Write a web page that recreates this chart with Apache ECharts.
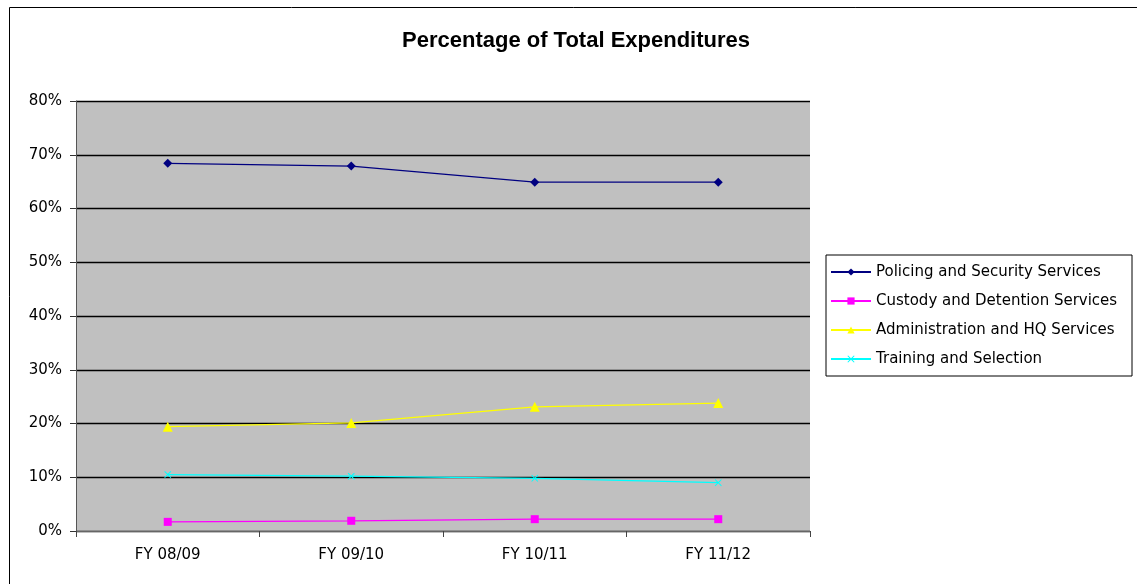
<!DOCTYPE html>
<html><head><meta charset="utf-8">
<script src="https://cdn.jsdelivr.net/npm/echarts@6/dist/echarts.min.js"></script>
<style>html,body{margin:0;padding:0;background:#fff}#c{width:1137px;height:584px}</style>
</head><body><div id="c"></div>
<script>
const categories = ['FY 08/09', 'FY 09/10', 'FY 10/11', 'FY 11/12'];
const policing = [68.4, 67.9, 64.9, 64.9];
const custody = [1.7, 1.9, 2.2, 2.2];
const admin = [19.4, 20.1, 23.1, 23.8];
const training = [10.5, 10.2, 9.8, 9.0];
const seriesNames = ['Policing and Security Services', 'Custody and Detention Services', 'Administration and HQ Services', 'Training and Selection'];

const xPath = 'path://M0,1L1,0L5,4L9,0L10,1L6,5L10,9L9,10L5,6L1,10L0,9L4,5Z';
const font = 'Liberation Sans, Arial, sans-serif';
const wfont = 'DejaVu Sans, Verdana, sans-serif';
function mk(name, data, color, symbol, size) {
  return {
    name, type: 'line', data, symbol, symbolSize: size, showSymbol: true,
    lineStyle: { color, width: 1.3 }, itemStyle: { color, borderWidth: 0 },
    emphasis: { disabled: true }, animation: false
  };
}
const chart = echarts.init(document.getElementById('c'));
chart.setOption({
  animation: false,
  title: { text: 'Percentage of Total Expenditures', left: 571, top: 25, textAlign: 'center',
    textStyle: { fontFamily: font, fontSize: 22, fontWeight: 'bold', color: '#000' } },
  graphic: [{ type: 'rect', shape: { x: 9.5, y: 7.5, width: 1140, height: 600 },
    style: { fill: 'none', stroke: '#000', lineWidth: 1 }, z: -1 }],
  grid: { left: 76, right: 327, top: 101, bottom: 53, show: true, backgroundColor: '#C0C0C0', borderWidth: 0 },
  legend: {
    orient: 'vertical', left: 826, top: 255, itemWidth: 40, itemHeight: 9, itemGap: 11,
    padding: [8, 4, 8, 4], borderColor: '#000', borderWidth: 1, backgroundColor: '#fff',
    textStyle: { fontFamily: wfont, fontSize: 15, lineHeight: 18, color: '#000', width: 252, padding: [0, 0, 0, 0] },
    data: seriesNames
  },
  xAxis: {
    type: 'category', data: categories, boundaryGap: true,
    axisLine: { lineStyle: { color: '#666', width: 1 } },
    axisTick: { show: true, length: 6, lineStyle: { color: '#444' } },
    axisLabel: { fontFamily: wfont, fontSize: 15, color: '#000', margin: 17 }
  },
  yAxis: {
    type: 'value', min: 0, max: 80, interval: 10,
    axisLine: { show: true, lineStyle: { color: '#555' } },
    axisTick: { show: true, length: 6, lineStyle: { color: '#333' } },
    axisLabel: { fontFamily: wfont, fontSize: 15, color: '#000', margin: 14, formatter: v => v + '%' },
    splitLine: { lineStyle: { color: '#000', width: 1.3 } }
  },
  series: [
    mk(seriesNames[0], policing, '#000080', 'diamond', 9),
    mk(seriesNames[1], custody, '#FF00FF', 'rect', 8),
    mk(seriesNames[2], admin, '#FFFF00', 'triangle', 10),
    mk(seriesNames[3], training, '#00FFFF', xPath, 7)
  ]
});
</script></body></html>
